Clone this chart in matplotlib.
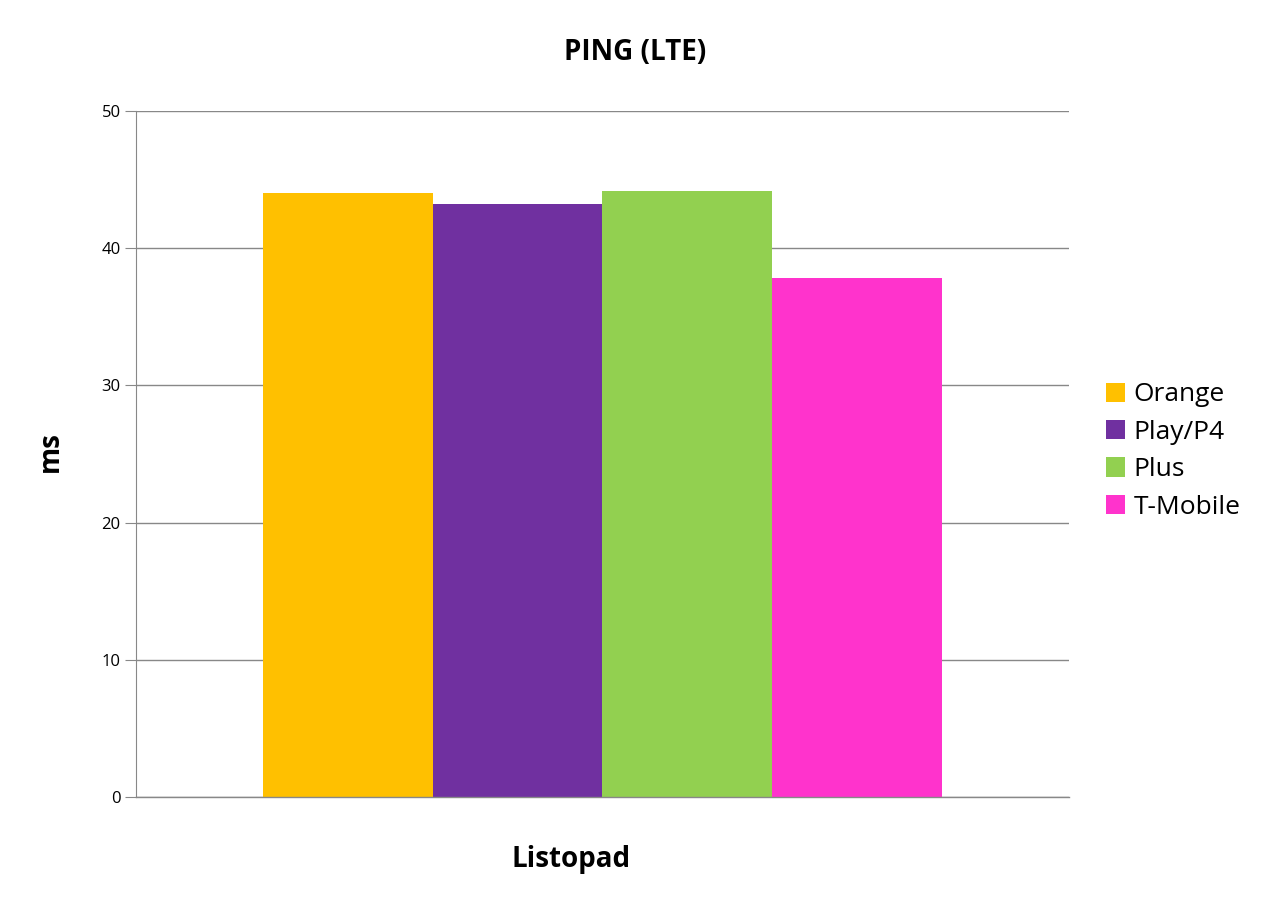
import matplotlib

matplotlib.use("Agg")
import matplotlib.pyplot as plt
import numpy as np
from matplotlib.patches import Patch

plt.rcParams["font.family"] = ["Open Sans", "DejaVu Sans"]

# data
category = "Listopad"
operators = ["Orange", "Play/P4", "Plus", "T-Mobile"]
ping_ms = [44.0, 43.2, 44.2, 37.8]
colors = ["#FFC000", "#7030A0", "#92D050", "#FF33CC"]
y_ticks = [0, 10, 20, 30, 40, 50]

W, H = 1271, 907
fig = plt.figure(figsize=(W / 100, H / 100), dpi=100)
ax = fig.add_axes([0.107, 0.1213, 0.734, 0.7563])

width = 0.1818
n = len(operators)
for i, (name, val, col) in enumerate(zip(operators, ping_ms, colors)):
    ax.bar((i - (n - 1) / 2) * width, val, width=width, color=col,
           label=name, zorder=2)

ax.set_xlim(-0.5, 0.5)
ax.set_ylim(0, 50)
ax.set_yticks(y_ticks)
ax.set_xticks([])
ax.yaxis.grid(True, color="#888888", linewidth=1.0, zorder=0)
# baseline is drawn on top so it is not half-clipped at the axes edge
ax.axhline(0, color="#888888", linewidth=1.0, clip_on=False, zorder=3)
for side in ["top", "right", "bottom"]:
    ax.spines[side].set_visible(False)
ax.spines["left"].set_color("#888888")
ax.tick_params(axis="y", length=8, color="#888888", labelsize=12, pad=3)

# title and axis labels placed in figure coords, like the source chart
fig.text(0.5, 1 - 52 / H, "PING (LTE)", fontsize=20, fontweight="bold",
         ha="center", va="center")
fig.text(571 / W, 1 - 860 / H, category, fontsize=20, fontweight="bold",
         ha="center", va="center")
fig.text(50 / W, 1 - 452 / H, "ms", fontsize=20, fontweight="bold",
         ha="center", va="center", rotation=90)

handles = [Patch(facecolor=c, label=o) for o, c in zip(operators, colors)]
fig.legend(handles=handles, loc="center left",
           bbox_to_anchor=(1095 / W, 1 - 451 / H), frameon=False,
           fontsize=19, handlelength=0.75, handleheight=0.75,
           handletextpad=0.3, labelspacing=0.47, borderaxespad=0)

fig.savefig("out.png", dpi=100)
